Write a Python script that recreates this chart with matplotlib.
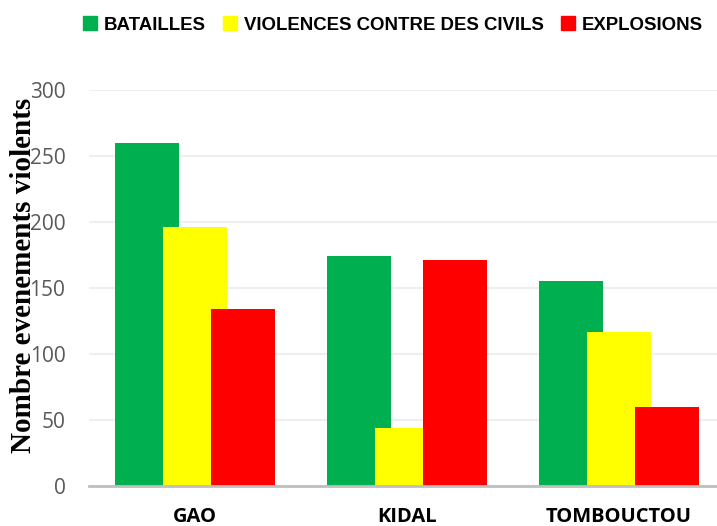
import matplotlib
matplotlib.use("Agg")
import matplotlib.pyplot as plt
from matplotlib.patches import Patch
import numpy as np

regions = ["GAO", "KIDAL", "TOMBOUCTOU"]
series = ["BATAILLES", "VIOLENCES CONTRE DES CIVILS", "EXPLOSIONS"]
batailles = [260, 174, 155]
violences = [196, 44, 117]
explosions = [134, 171, 60]
colors = ["#00b050", "#ffff00", "#ff0000"]
yticks = [0, 50, 100, 150, 200, 250, 300]

W, H = 717, 526
fig = plt.figure(figsize=(W / 100, H / 100), dpi=100)
# axes: left edge at x=89px, baseline at y=486px, 300-line at y=90px; 212px per category
ax = fig.add_axes([89 / W, (H - 486) / H, 636 / W, 396 / H])

x = np.arange(len(regions))
w, step = 0.302, 0.226
for i, (vals, c) in enumerate(zip([batailles, violences, explosions], colors)):
    ax.bar(x + (i - 1) * step, vals, w, color=c, zorder=2 + i)

ax.set_xlim(-0.5, 2.5)
ax.set_ylim(0, 300)
ax.set_yticks(yticks)
ax.yaxis.grid(True, color="#efefef", lw=1.5, zorder=0)
ax.set_axisbelow(True)
for s in ["top", "right", "left"]:
    ax.spines[s].set_visible(False)
ax.spines["bottom"].set_color("#bfbfbf")
ax.spines["bottom"].set_linewidth(2)
ax.spines["bottom"].set_zorder(10)

ax.set_xticks(x)
ax.set_xticklabels(regions, fontsize=14.5, fontweight="bold", family="Open Sans")
ax.tick_params(axis="x", length=0, pad=15)
ax.tick_params(axis="y", length=0, pad=17, labelsize=15, labelcolor="#595959")
for t in ax.get_yticklabels():
    t.set_family("Open Sans")

fig.text(24 / W, 1 - 275 / H, "Nombre evenements violents", rotation=90,
         ha="center", va="center", fontsize=21, fontweight="bold",
         family="Liberation Serif")

handles = [Patch(color=c, label=s) for c, s in zip(colors, series)]
fig.legend(handles=handles, loc="center", bbox_to_anchor=(393 / W, 1 - 25 / H),
           ncol=3, frameon=False, handlelength=0.75, handleheight=0.75,
           handletextpad=0.4, columnspacing=0.9,
           prop={"family": "Liberation Sans", "weight": "bold", "size": 13.4})

fig.savefig("out.png", dpi=100)
